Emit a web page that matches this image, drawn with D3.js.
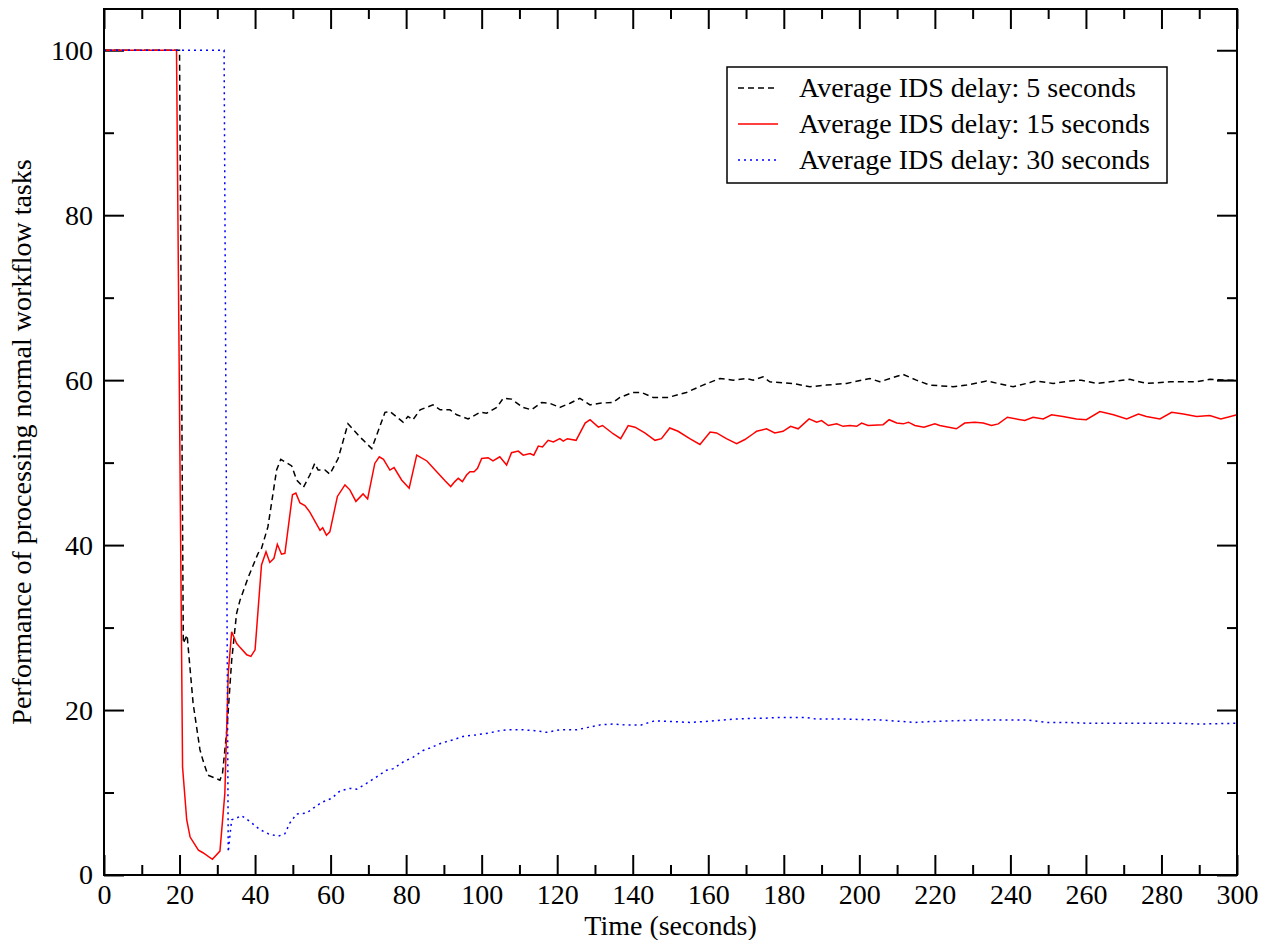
<!DOCTYPE html>
<html>
<head>
<meta charset="utf-8">
<script src="https://cdn.jsdelivr.net/npm/d3@7"></script>
<style>
  body { margin: 0; background: #fff; }
  text { font-family: "Liberation Serif", "Times New Roman", serif; fill: #000; }
</style>
</head>
<body>
<script>
// values: [time (s), performance]
var ids5 = [[0,100],[20,100],[21,28.1],[22,29.1],[23.6,20.8],[25.4,15.2],[26.2,13.9],[27.5,12.1],[30.7,11.5],[31.4,12.4],
  [32.6,17.9],[33.8,26],[35.1,31.7],[36,33.3],[38.2,36.1],[40.8,39],[41.7,39.6],[43.4,42.2],[45.7,49.1],[46.8,50.4],
  [49.7,49.6],[51,47.9],[52.8,47.0],[54.5,48.5],[55.8,49.9],[56.7,49.1],[58.5,49.1],[59.8,48.6],[62,50.5],[64.6,54.7],
  [67.8,53.1],[70.9,51.7],[74.4,56.1],[75.7,56.2],[79.2,54.9],[80.5,55.6],[81.8,55.2],[83.7,56.4],[87.1,57.0],[89,56.4],
  [91.6,56.4],[93.4,55.8],[96.4,55.3],[99.6,56.1],[101.3,56.0],[104,56.7],[105.7,57.8],[107.9,57.7],[110.9,56.7],[113.2,56.4],
  [115.9,57.3],[118,57.2],[120.7,56.7],[123.4,57.2],[126,57.8],[128.7,57.0],[131.3,57.2],[134.8,57.3],[136.6,57.9],[140,58.5],
  [142.3,58.5],[145.4,57.9],[149.3,57.9],[154.2,58.5],[158.6,59.4],[163.1,60.2],[166.6,60],[170.1,60.2],[171.9,60],[174.5,60.4],
  [176.3,59.8],[182.4,59.6],[186.9,59.2],[191.3,59.4],[196.6,59.6],[202.8,60.2],[205.4,59.8],[211.6,60.7],[215.1,60],[218.7,59.4],
  [224.8,59.2],[228.4,59.4],[233.7,59.9],[240.7,59.2],[246.9,59.9],[251.3,59.6],[255.8,59.9],[258.8,60],[262.8,59.6],[271.6,60.1],
  [276,59.6],[282.3,59.8],[289.3,59.8],[292.8,60.1],[298.1,60],[300,60]];

var ids15 = [[0,100],[19.2,100],[20.8,13.1],[21.9,6.7],[22.8,4.6],[25,3.0],[26.2,2.7],[28.7,1.9],[30.7,2.9],[32,9.9],
  [32.9,24.5],[33.8,29.5],[35.1,28.1],[36,27.6],[37.8,26.7],[38.9,26.5],[40,27.3],[41.7,37.6],[42.9,39.2],[43.9,37.9],
  [45,38.4],[45.9,40.1],[47,38.9],[47.9,39.0],[49.9,46.1],[50.8,46.3],[51.9,45.1],[53.2,44.8],[54.5,44.0],[57.2,41.8],
  [57.9,42.1],[58.9,41.2],[59.8,41.6],[61.8,45.9],[63.8,47.3],[65.1,46.7],[66.7,45.3],[68.6,46.2],[69.8,45.6],[71.7,49.9],
  [72.9,50.7],[74,50.4],[75.7,49.1],[76.8,49.4],[78.8,47.9],[80.8,46.9],[82.8,50.9],[85.5,50.2],[88.1,48.9],[90.3,47.8],
  [91.8,47.1],[92.9,47.7],[93.8,48.1],[94.9,47.7],[96,48.5],[96.9,48.9],[98,48.9],[98.9,49.3],[100,50.5],[101.7,50.6],
  [103,50.2],[104.8,50.7],[106.6,49.7],[107.9,51.2],[109.7,51.4],[111,50.9],[112.8,51.1],[113.8,50.9],[115,52.0],[116.1,51.9],
  [117.6,52.7],[119,52.5],[120.7,52.9],[121.6,52.6],[122.7,52.9],[125,52.7],[127.4,54.8],[128.7,55.2],[130.9,54.3],[132,54.5],
  [134.8,53.5],[136.8,52.9],[138.8,54.5],[140.6,54.3],[143.2,53.6],[145.9,52.7],[147.6,52.9],[149.8,54.2],[152,53.8],[155.1,52.9],
  [157.8,52.2],[160.5,53.7],[162.2,53.6],[164.8,52.9],[167.5,52.3],[169.7,52.8],[171.9,53.5],[172.8,53.8],[175.4,54.1],[177.6,53.6],
  [179.8,53.8],[181.8,54.4],[183.8,54.1],[186.7,55.3],[188.7,54.9],[190,55.1],[191.8,54.5],[194,54.7],[195.7,54.4],[197.5,54.5],
  [199.3,54.4],[200.6,54.8],[202.3,54.5],[206.3,54.6],[207.9,55.2],[209.9,54.8],[211.6,54.7],[213,54.9],[214.7,54.5],[217.1,54.3],
  [220,54.7],[221.3,54.5],[225.7,54.1],[227.9,54.8],[230.6,54.9],[232.8,54.8],[235,54.5],[236.8,54.7],[239.2,55.5],[243.8,55.1],
  [246,55.5],[248.7,55.3],[250.9,55.8],[253.9,55.6],[257.5,55.3],[260.1,55.2],[263.7,56.2],[267.3,55.8],[270.8,55.3],[273.9,55.9],
  [276,55.6],[279.6,55.3],[282.7,56.1],[285.8,55.9],[289.3,55.6],[292.8,55.7],[295.7,55.3],[297.5,55.5],[300,55.8]];

var ids30 = [[0,100],[31.8,100],[32.9,2.8],[33.4,5.0],[33.8,6.7],[35.1,6.9],[36.4,7.2],[38.6,6.5],[41.3,5.5],[43.5,5.0],
  [46.1,4.7],[47.9,5.0],[49.2,6.3],[51,7.4],[53.6,7.5],[55.4,8.1],[57.6,8.8],[60.3,9.3],[62.5,10.2],[65.1,10.5],
  [66.9,10.4],[69.5,11.1],[72.2,11.9],[74.8,12.7],[76.6,12.9],[79.2,13.7],[81.9,14.3],[84.5,15.1],[86.3,15.4],[89.4,16.0],
  [92.5,16.4],[95.1,16.8],[98.7,17.0],[101.7,17.2],[104.8,17.5],[106.6,17.6],[111,17.6],[114.1,17.5],[117.2,17.3],[120.7,17.6],
  [125.1,17.6],[128.2,17.9],[131.3,18.2],[134.8,18.3],[137.9,18.2],[142.3,18.2],[145.9,18.7],[150.7,18.6],[155.1,18.5],[158.7,18.6],
  [161.8,18.7],[166.6,18.9],[171.5,19.0],[174.6,19.0],[178.5,19.1],[186,19.1],[188.7,18.9],[196.6,18.9],[205.4,18.8],[214.7,18.5],
  [218.6,18.6],[231.9,18.8],[244.3,18.8],[249.6,18.5],[254.9,18.5],[260.2,18.4],[267.3,18.4],[274.3,18.4],[284.9,18.4],[290.2,18.3],
  [300,18.4]];

var xTicks = d3.range(0, 301, 20);
var xMinor = d3.range(10, 300, 20);
var yTicks = [0, 20, 40, 60, 80, 100];
var yMinor = [10, 30, 50, 70, 90];
var labels = ["Average IDS delay: 5 seconds", "Average IDS delay: 15 seconds", "Average IDS delay: 30 seconds"];

var W = 1265, H = 940;
var margin = {left: 104, right: 28, top: 9, bottom: 65};

var svg = d3.select("body").append("svg")
    .attr("width", W)
    .attr("height", H);

var x = d3.scaleLinear().domain([0, 300]).range([margin.left, W - margin.right]);
var y = d3.scaleLinear().domain([0, 105]).range([H - margin.bottom, margin.top]);

var x0 = x(0), x1 = x(300), y0 = y(0), y1 = y(105);

// ticks on all four sides, pointing in
function tickAxis(axis, vals, size, tx, ty, fmt) {
  var g = svg.append("g")
      .attr("transform", "translate(" + tx + "," + ty + ")")
      .call(axis.tickValues(vals).tickSize(size).tickSizeOuter(0).tickPadding(8).tickFormat(fmt));
  g.select(".domain").remove();
  g.attr("font-family", null);
  g.selectAll(".tick line").attr("stroke", "#000").attr("stroke-width", 2);
  g.selectAll(".tick text").attr("font-size", 28).attr("fill", "#000");
  return g;
}
var none = function() { return ""; };

var gx = tickAxis(d3.axisBottom(x), xTicks, -20, 0, y0, d3.format("d"));
gx.selectAll(".tick text").attr("y", 10).attr("dy", "0.68em");
tickAxis(d3.axisBottom(x), xMinor, -10, 0, y0, none);
tickAxis(d3.axisTop(x), xTicks, -20, 0, y1, none);
tickAxis(d3.axisTop(x), xMinor, -10, 0, y1, none);

var gy = tickAxis(d3.axisLeft(y), yTicks, -20, x0, 0, d3.format("d"));
gy.selectAll(".tick text").attr("x", -11);
tickAxis(d3.axisLeft(y), yMinor, -10, x0, 0, none);
tickAxis(d3.axisRight(y), yTicks, -20, x1, 0, none);
tickAxis(d3.axisRight(y), yMinor, -10, x1, 0, none);

var line = d3.line()
    .x(function(d) { return x(d[0]); })
    .y(function(d) { return y(d[1]); });

var series = [
  {data: ids5, color: "#000", dash: "6,4", width: 1.5},
  {data: ids15, color: "#ff0000", dash: null, width: 1.5},
  {data: ids30, color: "#0000ff", dash: "2,4", width: 1.5}
];

svg.append("clipPath").attr("id", "clip")
  .append("rect").attr("x", x0).attr("y", y1).attr("width", x1 - x0).attr("height", y0 - y1);

series.forEach(function(s) {
  svg.append("path")
      .datum(s.data)
      .attr("clip-path", "url(#clip)")
      .attr("fill", "none")
      .attr("stroke", s.color)
      .attr("stroke-width", s.width)
      .attr("stroke-dasharray", s.dash)
      .attr("d", line);
});

// frame
svg.append("rect")
    .attr("x", x0).attr("y", y1)
    .attr("width", x1 - x0).attr("height", y0 - y1)
    .attr("fill", "none")
    .attr("stroke", "#000")
    .attr("stroke-width", 2);

// axis titles
svg.append("text")
    .attr("x", (x0 + x1) / 2)
    .attr("y", 935)
    .attr("text-anchor", "middle")
    .attr("font-size", 28)
    .text("Time (seconds)");

svg.append("text")
    .attr("transform", "translate(31," + ((y0 + y1) / 2) + ") rotate(-90)")
    .attr("text-anchor", "middle")
    .attr("font-size", 28)
    .text("Performance of processing normal workflow tasks");

// legend
var lg = svg.append("g");
lg.append("rect")
    .attr("x", 727).attr("y", 67)
    .attr("width", 440).attr("height", 116)
    .attr("fill", "#fff")
    .attr("stroke", "#000")
    .attr("stroke-width", 1.5);

labels.forEach(function(l, i) {
  var ly = 88 + i * 36;
  lg.append("line")
      .attr("x1", 738).attr("x2", 778)
      .attr("y1", ly).attr("y2", ly)
      .attr("stroke", series[i].color)
      .attr("stroke-width", series[i].width)
      .attr("stroke-dasharray", series[i].dash);
  lg.append("text")
      .attr("x", 799)
      .attr("y", ly + 9)
      .attr("font-size", 28)
      .text(l);
});
</script>
</body>
</html>
